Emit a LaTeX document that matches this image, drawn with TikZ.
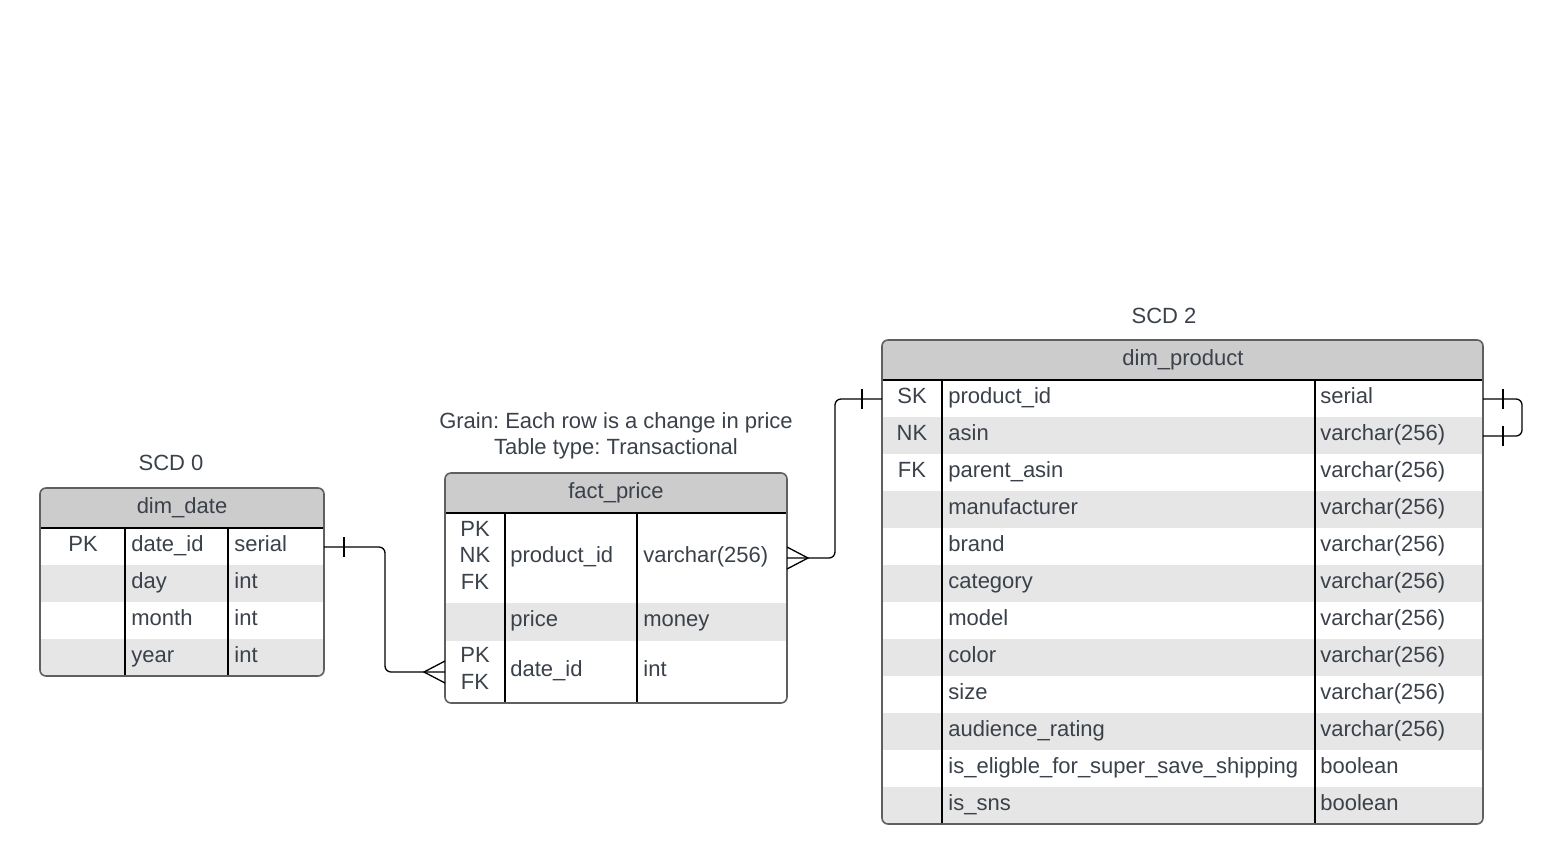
\documentclass[tikz,border=0pt]{standalone}
\usepackage{fontspec}
\setmainfont{Liberation Sans}
\usetikzlibrary{calc}
\frenchspacing

\definecolor{headgray}{HTML}{CCCCCC}
\definecolor{rowgray}{HTML}{E6E6E6}
\definecolor{boxgray}{HTML}{5F5F5F}
\definecolor{textgray}{HTML}{3A414A}

\tikzset{
  cell/.style={anchor=west, inner sep=0pt, text=textgray, text height=8pt, text depth=2.5pt,
    font=\fontsize{11pt}{13.25pt}\selectfont},
  keycell/.style={cell, anchor=center},
  headcell/.style={cell, anchor=center},
  conn/.style={line width=0.65pt, rounded corners=3pt},
  crow/.style={line width=0.65pt},
  divline/.style={line width=0.6pt},
  boxframe/.style={draw=boxgray, line width=0.8pt, rounded corners=3pt}
}

\begin{document}
\begin{tikzpicture}[x=0.5pt,y=-0.5pt]
\useasboundingbox (0,0) rectangle (1564,864);

% dim_date table
\node[headcell] (scd0) at (171,465) {SCD 0};
\begin{scope}
\clip[rounded corners=3pt] (40,488) rectangle (324,676);
\fill[headgray] (40,488) rectangle (324,528);
\foreach \y in {565,639} \fill[rowgray] (40,\y) rectangle (324,\y+37);
\end{scope}
\draw[divline] (40,528) -- (324,528);
\draw[divline] (125,528) -- (125,676) (228,528) -- (228,676);
\draw[boxframe] (40,488) rectangle (324,676);
\node[headcell] (dd-title) at (182,508) {dim\_date};
\node[keycell] (dd-key1) at (83,546) {PK};
\foreach \n/\t [count=\i] in {date\_id/serial, day/int, month/int, year/int} {
  \node[cell] (dd-name\i) at (131,{509+37*\i}) {\n};
  \node[cell] (dd-type\i) at (234,{509+37*\i}) {\t};
}
\coordinate (dd-id-e) at (324,547);

% fact_price table
\node[headcell] (grain) at (616,423) {Grain: Each row is a change in price};
\node[headcell] (ttype) at (616,449) {Table type: Transactional};
\begin{scope}
\clip[rounded corners=3pt] (445,473) rectangle (787,703);
\fill[headgray] (445,473) rectangle (787,513);
\fill[rowgray] (445,603) rectangle (787,641);
\end{scope}
\draw[divline] (445,513) -- (787,513);
\draw[divline] (505,513) -- (505,703) (637,513) -- (637,703);
\draw[boxframe] (445,473) rectangle (787,703);
\node[headcell] (fp-title) at (616,493) {fact\_price};
\node[keycell] (fp-key1a) at (475,530.5) {PK};
\node[keycell] (fp-key1b) at (475,557) {NK};
\node[keycell] (fp-key1c) at (475,583.5) {FK};
\node[cell] (fp-name1) at (510,557) {product\_id};
\node[cell] (fp-type1) at (643,557) {varchar(256)};
\node[cell] (fp-name2) at (510,621) {price};
\node[cell] (fp-type2) at (643,621) {money};
\node[keycell] (fp-key3a) at (475,657) {PK};
\node[keycell] (fp-key3b) at (475,684) {FK};
\node[cell] (fp-name3) at (510,671) {date\_id};
\node[cell] (fp-type3) at (643,671) {int};
\coordinate (fp-date-w) at (445,672);
\coordinate (fp-prod-e) at (787,558);

% dim_product table
\node[headcell] (scd2) at (1164,318) {SCD 2};
\begin{scope}
\clip[rounded corners=3pt] (882,340) rectangle (1483,824);
\fill[headgray] (882,340) rectangle (1483,380);
\foreach \i in {2,4,...,12} \fill[rowgray] (882,{343+37*\i}) rectangle (1483,{380+37*\i});
\end{scope}
\draw[divline] (882,380) -- (1483,380);
\draw[divline] (942,380) -- (942,824) (1315,380) -- (1315,824);
\draw[boxframe] (882,340) rectangle (1483,824);
\node[headcell] (dp-title) at (1183,360) {dim\_product};
\foreach \k [count=\i] in {SK,NK,FK}
  \node[keycell] (dp-key\i) at (912,{361+37*\i}) {\k};
\foreach \n/\t [count=\i] in {product\_id/serial, asin/varchar(256), parent\_asin/varchar(256),
    manufacturer/varchar(256), brand/varchar(256), category/varchar(256), model/varchar(256),
    color/varchar(256), size/varchar(256), audience\_rating/varchar(256),
    is\_eligble\_for\_super\_save\_shipping/boolean, is\_sns/boolean} {
  \node[cell] (dp-name\i) at (948,{361+37*\i}) {\n};
  \node[cell] (dp-type\i) at (1320,{361+37*\i}) {\t};
}
\coordinate (dp-id-w) at (882,399);
\coordinate (dp-id-e) at (1483,399);
\coordinate (dp-asin-e) at (1483,436);

% dim_date -- fact_price
\draw[conn] (dd-id-e) -- ++(61,0) |- (fp-date-w);
\draw[crow] ($(dd-id-e)+(20,-10)$) -- ++(0,20);
\draw[crow] ($(fp-date-w)+(0,-11)$) -- ($(fp-date-w)+(-21,0)$) -- ($(fp-date-w)+(0,11)$);

% fact_price -- dim_product
\draw[conn] (fp-prod-e) -- ++(48,0) |- (dp-id-w);
\draw[crow] ($(fp-prod-e)+(0,-11)$) -- ($(fp-prod-e)+(21,0)$) -- ($(fp-prod-e)+(0,11)$);
\draw[crow] ($(dp-id-w)+(-20,-10)$) -- ++(0,20);

% self reference on dim_product
\draw[conn] (dp-id-e) -- ++(39,0) |- (dp-asin-e);
\draw[crow] ($(dp-id-e)+(20,-10)$) -- ++(0,20);
\draw[crow] ($(dp-asin-e)+(20,-10)$) -- ++(0,20);

\end{tikzpicture}
\end{document}
